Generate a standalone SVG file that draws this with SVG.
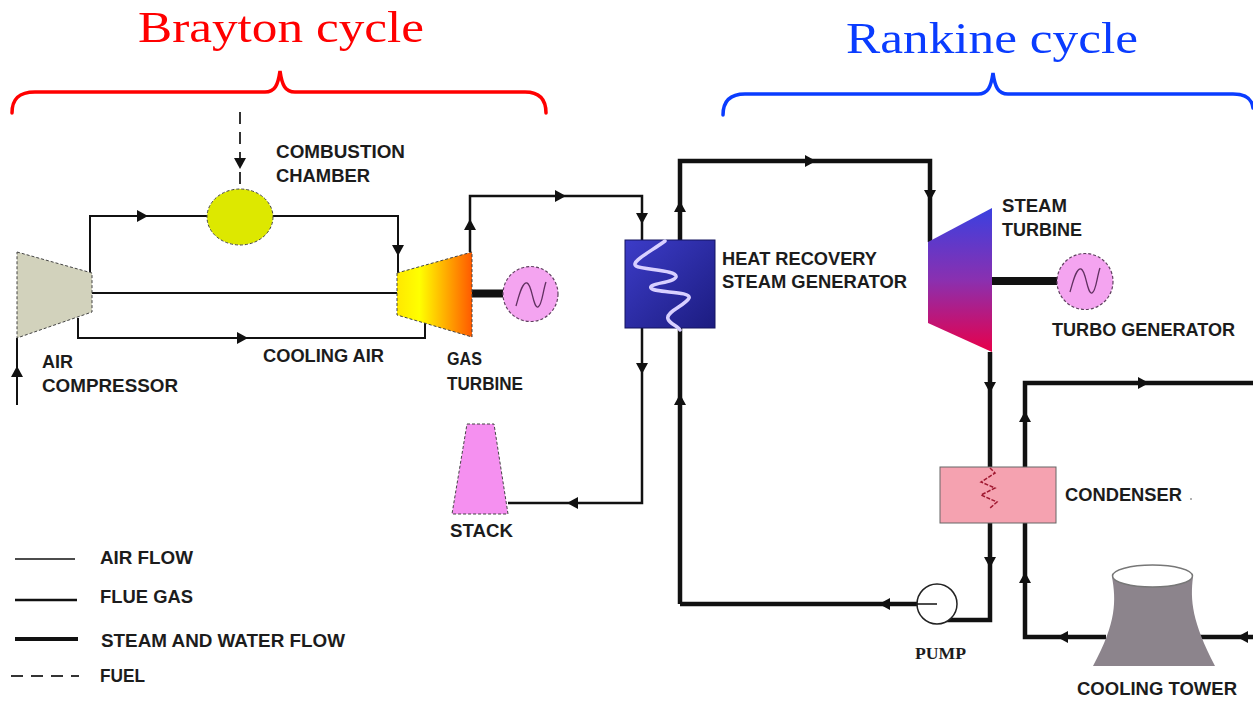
<svg xmlns="http://www.w3.org/2000/svg" xmlns:xlink="http://www.w3.org/1999/xlink" width="1253" height="701" viewBox="0 0 1253 701">
  <style>
    .lbl { font-family: "Liberation Sans", Arial, sans-serif; font-weight: bold; font-size: 19px; fill: #1c1c1c; }
    .title { font-family: "Liberation Serif", "Times New Roman", serif; font-size: 45px; }
    .air { fill: none; stroke: #111; stroke-width: 2; }
    .gas { fill: none; stroke: #111; stroke-width: 2.5; }
    .steam { fill: none; stroke: #111; stroke-width: 4.5; }
    .shaft { fill: none; stroke: #111; stroke-width: 8; }
    .fuel { fill: none; stroke: #333; stroke-width: 2; stroke-dasharray: 12 8; }
    .edge { stroke: #444; stroke-width: 1; stroke-dasharray: 3 2; }
    .gen { fill: #f4a4f0; stroke: #604060; stroke-width: 1.2; stroke-dasharray: 3 2; }
    .wave { fill: none; stroke: #603060; stroke-width: 1.3; }
    .brace { fill: none; stroke-width: 3.5; stroke-linecap: round; }
  </style>
  <defs>
    <path id="ah" d="M6,0 L-5,-6 L-5,6 Z" fill="#111"/>
    <linearGradient id="gtGrad" x1="0" y1="0" x2="1" y2="0">
      <stop offset="0" stop-color="#ffe800"/>
      <stop offset="0.3" stop-color="#ffff00"/>
      <stop offset="1" stop-color="#ff5a00"/>
    </linearGradient>
    <linearGradient id="stGrad" x1="0" y1="0" x2="0" y2="1">
      <stop offset="0" stop-color="#3a40e0"/>
      <stop offset="0.5" stop-color="#8a30b0"/>
      <stop offset="1" stop-color="#e8004a"/>
    </linearGradient>
    <linearGradient id="hrGrad" x1="0" y1="0" x2="1" y2="1">
      <stop offset="0" stop-color="#3c3cc8"/>
      <stop offset="1" stop-color="#1c1c80"/>
    </linearGradient>
  </defs>

  <!-- cycle headings and braces -->
  <g id="brayton-heading">
    <text class="title" x="138" y="42" fill="#ff0000" textLength="286" lengthAdjust="spacingAndGlyphs">Brayton cycle</text>
    <path class="brace" stroke="#ff0000" d="M12,113 C12,100 18,92 35,92 H265 C275,92 278,85 280,71 C282,85 285,92 295,92 H525 C540,92 546,100 546,113"/>
  </g>
  <g id="rankine-heading">
    <text class="title" x="846" y="53" fill="#0a3cff" textLength="292" lengthAdjust="spacingAndGlyphs">Rankine cycle</text>
    <path class="brace" stroke="#0a3cff" d="M723,115 C723,102 729,94 745,94 H978 C988,94 991,87 993,73 C995,87 998,94 1008,94 H1233 C1245,94 1252,99 1253,108"/>
  </g>

  <!-- connectors -->
  <g id="connectors">
    <!-- air flow -->
    <path class="air" d="M17,405 V338"/>
    <path class="air" d="M90,272 V216 H207"/>
    <path class="air" d="M273,216 H398 V273"/>
    <path class="air" d="M78,318 V338 H425 V323"/>
    <path class="air" stroke-width="3" d="M92,293 H398"/>
    <path class="fuel" d="M240,112 V190"/>
    <!-- flue gas -->
    <path class="gas" d="M470,252 V196 H642 V240"/>
    <path class="gas" d="M642,328 V503 H508"/>
    <!-- steam and water -->
    <path class="steam" d="M680,604 V328"/>
    <path class="steam" d="M680,240 V161 H930 V242"/>
    <path class="steam" d="M990,352 V467"/>
    <path class="steam" d="M990,523 V620 H944"/>
    <path class="steam" d="M917,604 H680"/>
    <!-- cooling water -->
    <path class="steam" d="M1025,467 V383 H1253"/>
    <path class="steam" d="M1025,523 V637 H1106"/>
    <path class="steam" d="M1253,637 H1200"/>
    <!-- shafts -->
    <path class="shaft" d="M472,293.5 H503"/>
    <path class="shaft" d="M992,281 H1057"/>
    <!-- arrowheads -->
    <use xlink:href="#ah" transform="translate(17,372) rotate(270)"/>
    <use xlink:href="#ah" transform="translate(142,216)"/>
    <use xlink:href="#ah" transform="translate(398,250) rotate(90)"/>
    <use xlink:href="#ah" transform="translate(240,163) rotate(90)"/>
    <use xlink:href="#ah" transform="translate(242,338)"/>
    <use xlink:href="#ah" transform="translate(470,225) rotate(270)"/>
    <use xlink:href="#ah" transform="translate(560,196)"/>
    <use xlink:href="#ah" transform="translate(642,218) rotate(90)"/>
    <use xlink:href="#ah" transform="translate(642,368) rotate(90)"/>
    <use xlink:href="#ah" transform="translate(573,503) rotate(180)"/>
    <use xlink:href="#ah" transform="translate(680,400) rotate(270)"/>
    <use xlink:href="#ah" transform="translate(680,207) rotate(270)"/>
    <use xlink:href="#ah" transform="translate(810,161)"/>
    <use xlink:href="#ah" transform="translate(930,195) rotate(90)"/>
    <use xlink:href="#ah" transform="translate(990,387) rotate(90)"/>
    <use xlink:href="#ah" transform="translate(990,562) rotate(90)"/>
    <use xlink:href="#ah" transform="translate(885,604) rotate(180)"/>
    <use xlink:href="#ah" transform="translate(1025,417) rotate(270)"/>
    <use xlink:href="#ah" transform="translate(1143,383)"/>
    <use xlink:href="#ah" transform="translate(1025,578) rotate(270)"/>
    <use xlink:href="#ah" transform="translate(1063,637) rotate(180)"/>
    <use xlink:href="#ah" transform="translate(1243,637) rotate(180)"/>
  </g>

  <!-- air compressor -->
  <g id="air-compressor">
    <polygon class="edge" fill="#d2d2bc" points="17,252 92,273 92,312 17,338"/>
    <text class="lbl" x="42" y="368" textLength="31" lengthAdjust="spacingAndGlyphs">AIR</text>
    <text class="lbl" x="42" y="392" textLength="136" lengthAdjust="spacingAndGlyphs">COMPRESSOR</text>
  </g>

  <!-- combustion chamber -->
  <g id="combustion-chamber">
    <ellipse class="edge" fill="#dde800" cx="240" cy="217" rx="33" ry="28"/>
    <text class="lbl" x="276" y="158" textLength="129" lengthAdjust="spacingAndGlyphs">COMBUSTION</text>
    <text class="lbl" x="276" y="182" textLength="94" lengthAdjust="spacingAndGlyphs">CHAMBER</text>
  </g>

  <g id="cooling-air-label">
    <text class="lbl" x="263" y="362" textLength="121" lengthAdjust="spacingAndGlyphs">COOLING AIR</text>
  </g>

  <!-- gas turbine -->
  <g id="gas-turbine">
    <polygon class="edge" fill="url(#gtGrad)" points="397,273 472,252 472,337 397,315"/>
    <text class="lbl" x="447" y="365" textLength="35" lengthAdjust="spacingAndGlyphs">GAS</text>
    <text class="lbl" x="447" y="390" textLength="76" lengthAdjust="spacingAndGlyphs">TURBINE</text>
  </g>

  <!-- gas turbine generator -->
  <g id="gas-generator">
    <circle class="gen" cx="530.5" cy="294" r="27.5"/>
    <path class="wave" d="M516,306 C519,296 522,282 527,283 C532,284 533,308 538,307 C542,306 543,290 546,282"/>
  </g>

  <!-- heat recovery steam generator -->
  <g id="hrsg">
    <rect x="625" y="240" width="90" height="88" fill="url(#hrGrad)" stroke="#151560" stroke-width="1"/>
    <path fill="none" stroke="#d8d0ff" stroke-width="3.5" stroke-linecap="round" d="M665,241 C650,252 630,262 636,266 C642,270 678,270 676,277 C674,283 648,283 651,288 C654,293 692,291 689,298 C686,305 665,312 668,319 C670,324 678,326 680,330"/>
    <text class="lbl" x="722" y="265" textLength="155" lengthAdjust="spacingAndGlyphs">HEAT RECOVERY</text>
    <text class="lbl" x="722" y="288" textLength="185" lengthAdjust="spacingAndGlyphs">STEAM GENERATOR</text>
  </g>

  <!-- stack -->
  <g id="stack">
    <polygon class="edge" fill="#f590f0" points="467,424 494,424 508,514 452,514"/>
    <text class="lbl" x="450" y="537" textLength="63" lengthAdjust="spacingAndGlyphs">STACK</text>
  </g>

  <!-- steam turbine -->
  <g id="steam-turbine">
    <polygon fill="url(#stGrad)" points="928,242 992,208 992,352 928,323"/>
    <text class="lbl" x="1002" y="212" textLength="65" lengthAdjust="spacingAndGlyphs">STEAM</text>
    <text class="lbl" x="1002" y="236" textLength="80" lengthAdjust="spacingAndGlyphs">TURBINE</text>
  </g>

  <!-- turbo generator -->
  <g id="turbo-generator">
    <circle class="gen" cx="1085" cy="281.5" r="28"/>
    <path class="wave" d="M1070,292 C1073,282 1076,268 1081,269 C1086,270 1087,294 1092,293 C1096,292 1097,276 1100,268"/>
    <text class="lbl" x="1052" y="336" textLength="183" lengthAdjust="spacingAndGlyphs">TURBO GENERATOR</text>
  </g>

  <!-- condenser -->
  <g id="condenser">
    <rect x="940" y="467" width="116" height="56" fill="#f5a2b0" stroke="#666" stroke-width="1"/>
    <polyline fill="none" stroke="#a01830" stroke-width="1.5" stroke-dasharray="4 1.5" points="990,468 995,473 981,482 995,488 981,495 997,502 990,508"/>
    <text class="lbl" x="1065" y="501" textLength="117" lengthAdjust="spacingAndGlyphs">CONDENSER</text>
    <circle cx="1191" cy="499" r="1" fill="#999"/>
  </g>

  <!-- pump -->
  <g id="pump">
    <circle cx="937" cy="604" r="20" fill="#fff" stroke="#222" stroke-width="1.5"/>
    <path fill="none" stroke="#111" stroke-width="1.5" d="M917,604 H937"/>
    <text x="915" y="659" font-family="'Liberation Serif', 'Times New Roman', serif" font-weight="bold" font-size="16.5" fill="#1c1c1c" textLength="51" lengthAdjust="spacingAndGlyphs">PUMP</text>
  </g>

  <!-- cooling tower -->
  <g id="cooling-tower">
    <path fill="#8c848c" d="M1112,577 C1116,600 1117,622 1093,666 H1215 C1192,622 1190,600 1193,577 Z"/>
    <ellipse cx="1152.5" cy="576" rx="40" ry="11" fill="#fff" stroke="#777" stroke-width="1.5"/>
    <text class="lbl" x="1077" y="695" textLength="160" lengthAdjust="spacingAndGlyphs">COOLING TOWER</text>
  </g>

  <!-- legend -->
  <g id="legend">
    <path fill="none" stroke="#111" stroke-width="1.5" d="M15,559 H75"/>
    <path fill="none" stroke="#111" stroke-width="2.5" d="M15,600 H77"/>
    <path fill="none" stroke="#111" stroke-width="4" d="M15,639 H78"/>
    <path class="fuel" d="M11,676 H79"/>
    <text class="lbl" x="100" y="564" textLength="93" lengthAdjust="spacingAndGlyphs">AIR FLOW</text>
    <text class="lbl" x="100" y="603" textLength="93" lengthAdjust="spacingAndGlyphs">FLUE GAS</text>
    <text class="lbl" x="101" y="647" textLength="244" lengthAdjust="spacingAndGlyphs">STEAM AND WATER FLOW</text>
    <text class="lbl" x="100" y="682" textLength="45" lengthAdjust="spacingAndGlyphs">FUEL</text>
  </g>
</svg>
